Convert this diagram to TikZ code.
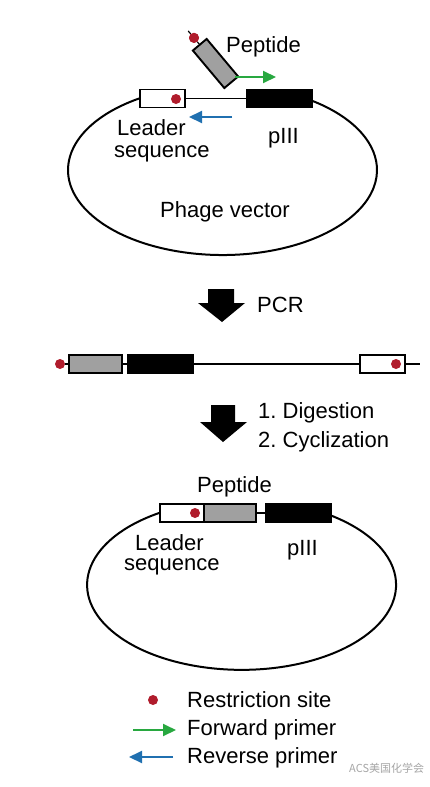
\documentclass[tikz,border=0pt]{standalone}
\usepackage{fontspec}
\setmainfont{Liberation Sans}
\newfontfamily\cjkfont{Noto Sans CJK SC}
\usetikzlibrary{arrows.meta,calc}
\definecolor{sitered}{RGB}{176,28,44}
\definecolor{fwdgreen}{RGB}{40,168,64}
\definecolor{revblue}{RGB}{32,112,176}
\definecolor{pepgray}{RGB}{160,160,160}
\tikzset{
  lbl/.style={anchor=base west,inner sep=0pt,font=\fontsize{22}{26}\selectfont},
  gene/.style={draw=black,line width=1.9pt,minimum height=18pt,inner sep=0pt},
  leaderbox/.style={gene,fill=white},
  pepbox/.style={gene,fill=pepgray},
  p3box/.style={gene,fill=black},
  dna/.style={line width=1.6pt},
  vec/.style={line width=2pt},
  site/.style={circle,fill=sitered,minimum size=10pt,inner sep=0pt},
  fwd/.style={line width=2pt,fwdgreen,-{Triangle[length=13pt,width=12pt]}},
  rev/.style={line width=2pt,revblue,-{Triangle[length=13pt,width=12pt]}},
  bigarrow/.style={fill=black,draw=none}
}
\begin{document}
\begin{tikzpicture}[x=1pt,y=-1pt]
\useasboundingbox (0,0) rectangle (430,787);
\fill[white] (0,0) rectangle (430,787);

% ---------- top: phage vector ----------
\node[leaderbox,minimum width=45pt] (lead1) at (162.5,98.5) {};
\node[p3box,minimum width=65pt] (p31) at (279.5,98.5) {};
\draw[dna] (lead1.east) -- (p31.west);
\draw[vec] (lead1.west) arc[start angle=122.7,end angle=415,x radius=154.5pt,y radius=85pt];
\node[site] (s1) at (176,99) {};

\node[pepbox,minimum width=49pt,rotate=-50] (pep1) at (215.5,63.5) {};
\node[site] (s0) at ($(pep1.west)+(130:8pt)$) {};
\coordinate (stemend) at ($(pep1.west)+(130:17pt)$);
\draw[line width=1.2pt] (pep1.west) -- (s0) -- (stemend);
\node[site] at (s0) {};
\coordinate (fg1a) at (235,77);
\coordinate (fg1b) at (276,77);
\draw[fwd] (fg1a) -- (fg1b);
\coordinate (rb1a) at (232,117);
\coordinate (rb1b) at (189,117);
\draw[rev] (rb1a) -- (rb1b);

\node[lbl] (tpep1) at (226,52) {Peptide};
\node[lbl] (tlead1) at (117,135) {Leader};
\node[lbl] (tseq1) at (114,157) {sequence};
\node[lbl] (tp31) at (268,143) {pIII};
\node[lbl] (tvec) at (160,217) {Phage vector};

% ---------- PCR arrow ----------
\fill[bigarrow] (208,289) -- (234,289) -- (234,303) -- (245,303) -- (222,322) -- (198,303) -- (208,303) -- cycle;
\node[lbl] (tpcr) at (257,312) {PCR};

% ---------- linear PCR product ----------
\coordinate (lineend) at (420,364);
\node[site] (s2) at (60,364) {};
\node[pepbox,minimum width=53pt] (pep2) at (95.5,364) {};
\node[p3box,minimum width=65pt] (p32) at (160.5,364) {};
\node[leaderbox,minimum width=45pt] (lead2) at (382.5,364) {};
\draw[dna] (s2) -- (pep2.west);
\draw[dna] (pep2.east) -- (p32.west);
\draw[dna] (p32.east) -- (lead2.west);
\draw[dna] (lead2.east) -- (lineend);
\node[site] at (396,364) {};

% ---------- digestion arrow ----------
\fill[bigarrow] (211,405) -- (235,405) -- (235,422) -- (247,422) -- (223,442) -- (200,422) -- (211,422) -- cycle;
\node[lbl] (tdig) at (258,418) {1.\ Digestion};
\node[lbl] (tcyc) at (258,447) {2.\ Cyclization};

% ---------- bottom: cyclized vector ----------
\node[leaderbox,minimum width=44pt] (lead3) at (182,513) {};
\node[pepbox,minimum width=52pt] (pep3) at (230,513) {};
\node[p3box,minimum width=65pt] (p33) at (298.5,513) {};
\draw[dna] (pep3.east) -- (p33.west);
\draw[vec] (lead3.west) arc[start angle=122.3,end angle=415,x radius=154.5pt,y radius=85pt];
\node[site] (s3) at (195,513) {};

\node[lbl] (tpep3) at (197,492) {Peptide};
\node[lbl] (tlead3) at (135,550) {Leader};
\node[lbl] (tseq3) at (124,570) {sequence};
\node[lbl] (tp33) at (287,555) {pIII};

% ---------- legend ----------
\node[site] (ls) at (153,700) {};
\node[lbl] (tls) at (187,707) {Restriction site};
\coordinate (lfa) at (133,730);
\coordinate (lfb) at (176,730);
\draw[fwd] (lfa) -- (lfb);
\node[lbl] (tlf) at (187,735) {Forward primer};
\coordinate (lra) at (173,757);
\coordinate (lrb) at (129,757);
\draw[rev] (lra) -- (lrb);
\node[lbl] (tlr) at (187,763) {Reverse primer};

\node[anchor=west,inner sep=0pt,text=black!35,font=\cjkfont\fontsize{11}{13}\selectfont] (wm) at (349,768) {ACS美国化学会};
\end{tikzpicture}
\end{document}
